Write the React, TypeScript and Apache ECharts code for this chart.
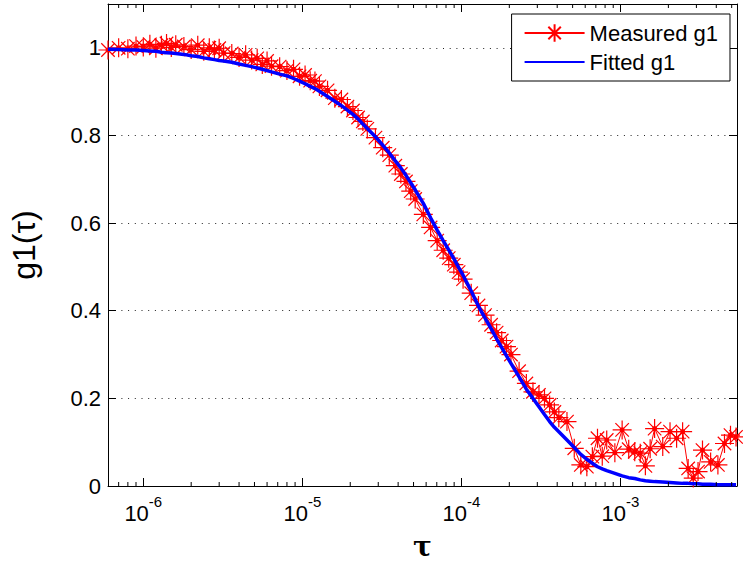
import React, { useEffect, useRef } from 'react';
import * as echarts from 'echarts';

// Lag times (s) of the multi-tau correlator channels
const tau = [
  6e-7, 7e-7, 8e-7, 9e-7, 1.0e-6, 1.1e-6, 1.2e-6, 1.3e-6, 1.4e-6, 1.5e-6, 1.6e-6,
  1.8e-6, 2.0e-6, 2.2e-6, 2.4e-6, 2.6e-6, 2.8e-6, 3.0e-6, 3.2e-6,
  3.6e-6, 4.0e-6, 4.4e-6, 4.8e-6, 5.2e-6, 5.6e-6, 6.0e-6, 6.4e-6,
  7.2e-6, 8.0e-6, 8.8e-6, 9.6e-6, 1.04e-5, 1.12e-5, 1.20e-5, 1.28e-5,
  1.44e-5, 1.60e-5, 1.76e-5, 1.92e-5, 2.08e-5, 2.24e-5, 2.40e-5, 2.56e-5,
  2.88e-5, 3.20e-5, 3.52e-5, 3.84e-5, 4.16e-5, 4.48e-5, 4.80e-5, 5.12e-5,
  5.76e-5, 6.40e-5, 7.04e-5, 7.68e-5, 8.32e-5, 8.96e-5, 9.60e-5, 1.024e-4,
  1.152e-4, 1.280e-4, 1.408e-4, 1.536e-4, 1.664e-4, 1.792e-4, 1.920e-4, 2.048e-4,
  2.304e-4, 2.560e-4, 2.816e-4, 3.072e-4, 3.328e-4, 3.584e-4, 3.840e-4, 4.096e-4,
  4.608e-4, 5.120e-4, 5.632e-4, 6.144e-4, 6.656e-4, 7.168e-4, 7.680e-4, 8.192e-4,
  9.216e-4, 1.0240e-3, 1.1264e-3, 1.2288e-3, 1.3312e-3, 1.4336e-3, 1.5360e-3, 1.6384e-3,
  1.8432e-3, 2.0480e-3, 2.2528e-3, 2.4576e-3, 2.6624e-3, 2.8672e-3, 3.0720e-3, 3.2768e-3,
  3.6864e-3, 4.0960e-3, 4.5056e-3, 4.9152e-3, 5.3248e-3,
];

const measuredG1 = [
  0.995, 1.000, 0.998, 1.004, 1.002, 1.008, 0.999, 1.006, 1.010, 1.001, 1.007,
  1.003, 0.996, 1.006, 0.992, 1.000, 0.995, 0.999, 0.988,
  0.987, 0.978, 0.984, 0.972, 0.976, 0.962, 0.970, 0.958,
  0.957, 0.948, 0.951, 0.935, 0.938, 0.925, 0.924, 0.912,
  0.903, 0.885, 0.882, 0.866, 0.857, 0.841, 0.832, 0.815,
  0.795, 0.772, 0.755, 0.731, 0.712, 0.695, 0.673, 0.655,
  0.620, 0.590, 0.560, 0.538, 0.520, 0.505, 0.488, 0.472,
  0.440, 0.412, 0.390, 0.368, 0.350, 0.332, 0.318, 0.300,
  0.262, 0.234, 0.215, 0.208, 0.200, 0.185, 0.169, 0.156,
  0.147, 0.086, 0.048, 0.044, 0.067, 0.109, 0.068, 0.105,
  0.076, 0.128, 0.084, 0.078, 0.075, 0.046, 0.085, 0.131,
  0.090, 0.124, 0.109, 0.124, 0.040, 0.018, 0.033, 0.082,
  0.055, 0.048, 0.097, 0.116, 0.112,
];

const fittedG1 = [
  0.997, 0.996, 0.995, 0.995, 0.994, 0.993, 0.992, 0.990, 0.989, 0.988, 0.987,
  0.985, 0.982, 0.980, 0.977, 0.975, 0.973, 0.971, 0.970,
  0.967, 0.963, 0.960, 0.957, 0.954, 0.951, 0.948, 0.945,
  0.940, 0.936, 0.930, 0.924, 0.918, 0.912, 0.907, 0.901,
  0.889, 0.878, 0.868, 0.858, 0.848, 0.838, 0.826, 0.816,
  0.797, 0.778, 0.760, 0.742, 0.726, 0.709, 0.692, 0.676,
  0.645, 0.612, 0.584, 0.560, 0.539, 0.519, 0.499, 0.481,
  0.445, 0.410, 0.383, 0.359, 0.336, 0.316, 0.297, 0.280,
  0.249, 0.221, 0.200, 0.181, 0.163, 0.147, 0.134, 0.124,
  0.105, 0.088, 0.072, 0.061, 0.052, 0.044, 0.039, 0.035,
  0.029, 0.023, 0.019, 0.017, 0.014, 0.012, 0.011, 0.010,
  0.009, 0.008, 0.007, 0.006, 0.006, 0.005, 0.005, 0.004,
  0.004, 0.003, 0.003, 0.003, 0.003,
];

const xRange = [6e-7, 5.4e-3];
const yRange = [0, 1.1];
const yStep = 0.2;
const minorTicks = [
  7e-7, 8e-7, 9e-7,
  2e-6, 3e-6, 4e-6, 5e-6, 6e-6, 7e-6, 8e-6, 9e-6,
  2e-5, 3e-5, 4e-5, 5e-5, 6e-5, 7e-5, 8e-5, 9e-5,
  2e-4, 3e-4, 4e-4, 5e-4, 6e-4, 7e-4, 8e-4, 9e-4,
  2e-3, 3e-3, 4e-3, 5e-3,
];
const seriesNames = ['Measured g1', 'Fitted g1'];
const xName = 'τ';
const yName = 'g1(τ)';

const STAR =
  'path://M0,5L10,5M5,0L5,10M1.46,1.46L8.54,8.54M8.54,1.46L1.46,8.54M4.1,4.1L5.9,4.1L5.9,5.9L4.1,5.9Z';

export default function App() {
  const ref = useRef<HTMLDivElement>(null);
  useEffect(() => {
    const chart = echarts.init(ref.current!, null, { renderer: 'svg' });
    const font = 'Liberation Sans, Arial, Helvetica, sans-serif';
    const isPow10 = (v: number) => {
      const e = Math.log10(v);
      return Math.abs(e - Math.round(e)) < 1e-6;
    };
    const xLabel = (v: number) =>
      isPow10(v) ? `{b|10}{s|${Math.round(Math.log10(v))}}` : '';
    const yLabel = (v: number) => {
      const k = v / yStep;
      return Math.abs(k - Math.round(k)) < 1e-6 ? String(Math.round(k * 2) / 10) : '';
    };
    const axisLine = { show: true, onZero: false, lineStyle: { color: '#000', width: 1 } };
    const tick = { show: true, inside: true, length: 8, lineStyle: { color: '#000', width: 1 } };

    chart.setOption({
      animation: false,
      backgroundColor: '#fff',
      grid: { left: 97, right: 6, top: 4, bottom: 80, containLabel: false },
      legend: {
        data: [
          { name: seriesNames[0] },
          { name: seriesNames[1], itemStyle: { opacity: 0 } },
        ],
        orient: 'vertical',
        right: 13,
        top: 14,
        itemWidth: 60,
        itemHeight: 22,
        itemGap: 7,
        padding: [8, 12, 8, 12],
        backgroundColor: '#fff',
        borderColor: '#000',
        borderWidth: 1,
        borderRadius: 0,
        textStyle: { fontFamily: font, fontSize: 22, color: '#000' },
      },
      xAxis: [
        {
          type: 'log',
          logBase: 10,
          min: xRange[0],
          max: xRange[1],
          position: 'bottom',
          axisLine,
          axisTick: tick,
          splitLine: { show: false },
          axisLabel: {
            formatter: xLabel,
            margin: 8,
            color: '#000',
            fontFamily: font,
            rich: {
              b: { fontFamily: font, fontSize: 22, color: '#000', lineHeight: 30, verticalAlign: 'bottom' },
              s: { fontFamily: font, fontSize: 15, color: '#000', lineHeight: 16, verticalAlign: 'top' },
            },
          },
          name: xName,
          nameLocation: 'middle',
          nameGap: 46,
          nameTextStyle: { fontFamily: 'DejaVu Serif, serif', fontSize: 28, fontWeight: 'bold', color: '#000' },
        },
        {
          type: 'log',
          logBase: 10,
          min: xRange[0],
          max: xRange[1],
          position: 'top',
          axisLine,
          axisTick: tick,
          splitLine: { show: false },
          axisLabel: { show: false },
        },
      ],
      yAxis: [
        {
          type: 'value',
          min: yRange[0],
          max: yRange[1],
          interval: yStep,
          position: 'left',
          axisLine,
          axisTick: tick,
          splitLine: { show: true, lineStyle: { color: '#222', width: 1, type: [1, 5.7] } },
          axisLabel: { formatter: yLabel, margin: 7, fontFamily: font, fontSize: 22, color: '#000' },
          name: yName,
          nameLocation: 'middle',
          nameGap: 68,
          nameTextStyle: { fontFamily: font, fontSize: 32, color: '#000' },
        },
        {
          type: 'value',
          min: yRange[0],
          max: yRange[1],
          interval: yStep,
          position: 'right',
          axisLine,
          axisTick: tick,
          splitLine: { show: false },
          axisLabel: { show: false },
        },
      ],
      series: [
        {
          name: seriesNames[0],
          type: 'line',
          xAxisIndex: 0,
          yAxisIndex: 0,
          data: tau.map((t, i) => [t, measuredG1[i]]),
          symbol: STAR,
          symbolSize: 19,
          lineStyle: { color: '#ff0000', width: 1 },
          itemStyle: { color: '#ff0000', borderColor: '#ff0000', borderWidth: 1.2 },
          emphasis: { disabled: true },
          z: 2,
        },
        {
          name: seriesNames[1],
          type: 'line',
          xAxisIndex: 0,
          yAxisIndex: 0,
          data: tau.map((t, i) => [t, fittedG1[i]]),
          symbol: 'none',
          lineStyle: { color: '#0000ff', width: 3.5 },
          itemStyle: { color: '#0000ff' },
          emphasis: { disabled: true },
          z: 3,
        },
        {
          type: 'custom',
          coordinateSystem: 'cartesian2d',
          xAxisIndex: 0,
          yAxisIndex: 0,
          silent: true,
          clip: false,
          z: 10,
          data: minorTicks.map((t) => [t, 0]),
          renderItem: (params: any, api: any) => {
            const x = api.coord([api.value(0), 0])[0];
            const cs = params.coordSys;
            const bottom = cs.y + cs.height;
            return {
              type: 'group',
              children: [
                { type: 'line', shape: { x1: x, y1: bottom, x2: x, y2: bottom - 4 }, style: { stroke: '#000', lineWidth: 1 } },
                { type: 'line', shape: { x1: x, y1: cs.y, x2: x, y2: cs.y + 4 }, style: { stroke: '#000', lineWidth: 1 } },
              ],
            };
          },
        },
      ],
    });
    return () => chart.dispose();
  }, []);
  return (
    <div
      ref={ref}
      style={{ position: 'fixed', left: 0, top: 0, width: 743, height: 566, background: '#fff' }}
    />
  );
}
